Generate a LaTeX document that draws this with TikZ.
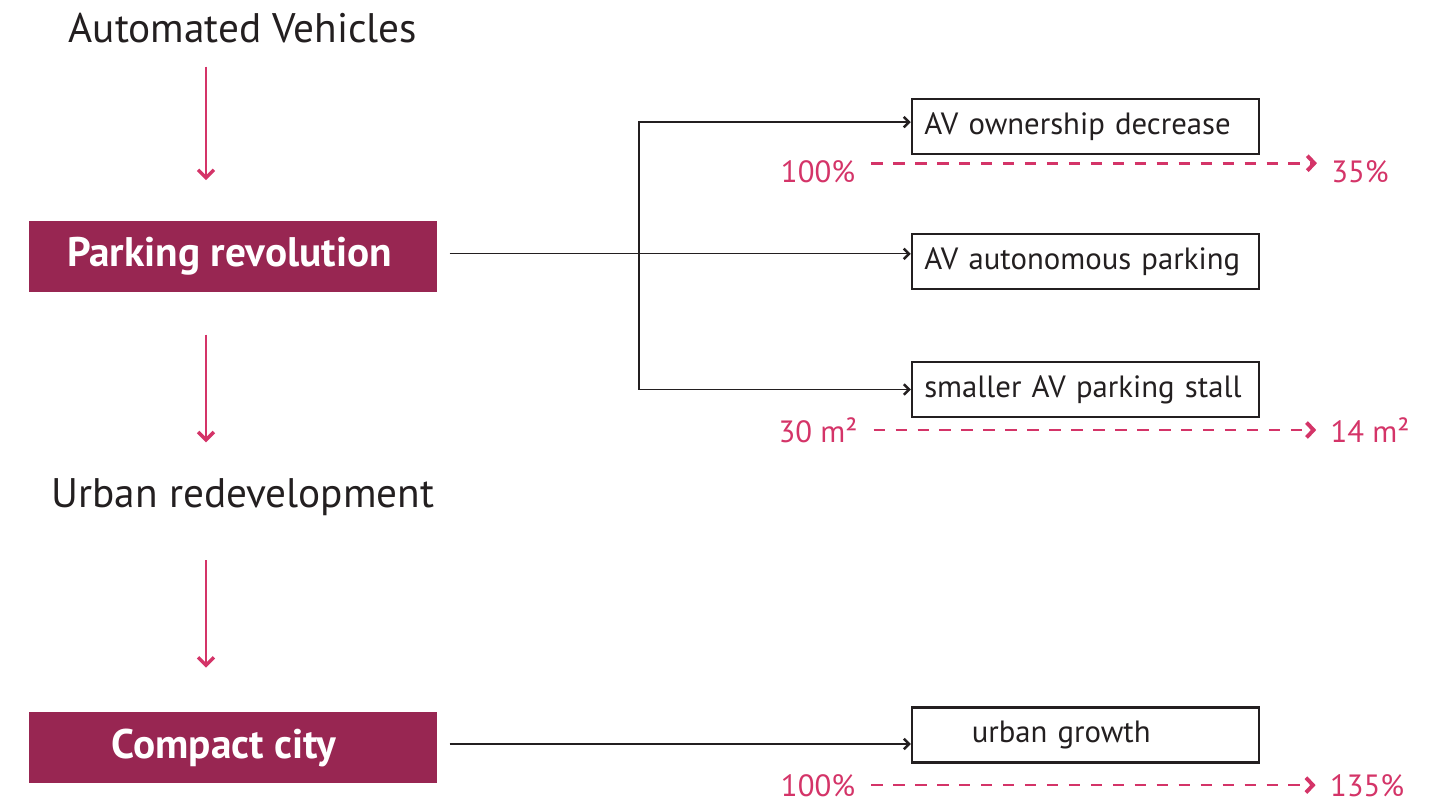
\documentclass[tikz,border=0pt]{standalone}
\usepackage{fontspec}
\setmainfont{PT Sans}
\usetikzlibrary{arrows.meta}
\definecolor{berry}{RGB}{152,38,82}
\definecolor{rose}{RGB}{212,52,104}
\definecolor{ink}{RGB}{35,31,32}

\begin{document}
\begin{tikzpicture}[x=0.02cm,y=-0.02cm,
    head/.style={font=\fontsize{23.5}{28}\selectfont, text=ink},
    stage/.style={fill=berry, text=white, font=\fontsize{23.5}{28}\selectfont\bfseries,
        minimum width=8.16cm, minimum height=1.42cm},
    pick/.style={draw=ink, line width=1.4pt, text=ink, font=\fontsize{17.5}{20}\selectfont,
        minimum width=6.94cm, minimum height=1.1cm, text width=6.45cm, align=left},
    pct/.style={text=rose, font=\fontsize{17.5}{20}\selectfont, inner sep=0pt},
    flow/.style={draw=rose, line width=1.1pt, -{Straight Barb[length=4.5pt,width=9pt,line width=2pt]}},
    link/.style={draw=ink, line width=0.7pt, -{Straight Barb[length=3pt,width=6pt,line width=1.4pt]}},
    trend/.style={draw=rose, line width=1.5pt, dash pattern=on 6.5pt off 6pt,
        -{Straight Barb[length=4pt,width=8.5pt,line width=2.2pt]}, shorten <=9pt, shorten >=8pt}]
    \useasboundingbox (0,0) rectangle (1446,803);

    % left column
    \node[head] (av) at (243,28) {Automated Vehicles};
    \node[stage] (park) at (233,256.5) {\hspace*{-4pt}Parking revolution};
    \node[head] (urban) at (243,497) {Urban redevelopment};
    \node[stage] (compact) at (233,747.5) {\hspace*{-10pt}Compact city};
    \coordinate (spine) at (206,0);
    \draw[flow, shorten <=10pt, shorten >=23pt] (av.south -| spine) -- (park.north -| spine);
    \draw[flow, shorten <=24pt, shorten >=17pt] (park.south -| spine) -- (urban.north -| spine);
    \draw[flow, shorten <=22pt, shorten >=25pt] (urban.south -| spine) -- (compact.north -| spine);

    % right column
    \node[pick] (own) at (1085.5,126.5) {AV ownership decrease};
    \node[pick] (auto) at (1085.5,261.5) {AV autonomous parking};
    \node[pick] (stall) at (1085.5,389.5) {smaller AV parking stall};
    \node[pick] (grow) at (1085.5,735) {\hspace*{0.95cm}urban growth};
    \coordinate (fork) at (639,254);
    \draw[link, shorten <=7pt] ([yshift=1.5pt]park.east) -- ([yshift=1.5pt]park.east -| auto.west);
    \draw[link] (fork) |- ([yshift=2.5pt]own.west);
    \draw[link] (fork) |- (stall.west);
    \draw[link, shorten <=7pt] ([yshift=2pt]compact.east) -- ([yshift=2pt]compact.east -| grow.west);

    % percentages
    \node[pct] (own0) at (818,172) {100\%};
    \node[pct] (own1) at (1360,172) {35\%};
    \node[pct] (stall0) at (818,430) {30 m²};
    \node[pct] (stall1) at (1370,430) {14 m²};
    \node[pct] (grow0) at (818,786) {100\%};
    \node[pct] (grow1) at (1367,786) {135\%};
    \draw[trend] ([yshift=5pt]own0.east) -- ([yshift=5pt]own1.west);
    \draw[trend] ([yshift=0pt]stall0.east) -- ([yshift=0pt]stall1.west);
    \draw[trend] ([yshift=0.5pt]grow0.east) -- ([yshift=0.5pt]grow1.west);
\end{tikzpicture}
\end{document}
